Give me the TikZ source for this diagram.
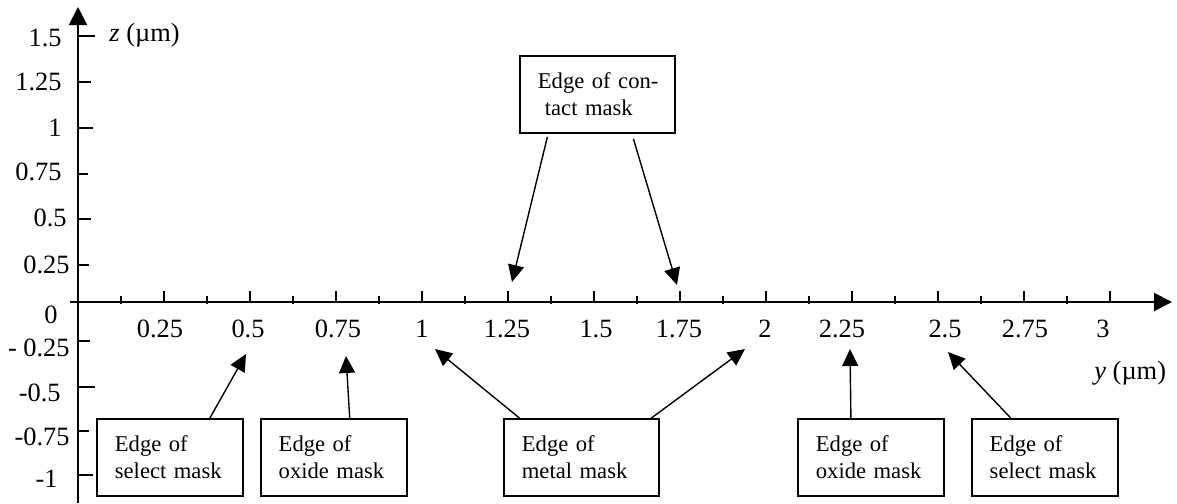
\documentclass[tikz,border=0pt]{standalone}
\usepackage{fontspec}
\setmainfont{Liberation Serif}
\usetikzlibrary{arrows.meta, positioning}

\begin{document}
\begin{tikzpicture}[
        x=0.5pt, y=-0.5pt,
        axis/.style={line width=1pt, -{Triangle[length=9pt, width=9pt]}},
        axtick/.style={line width=1pt},
        ticklabel/.style={font=\fontsize{13.2}{15}\selectfont, inner sep=0pt},
        maskbox/.style={draw, rectangle, line width=0.9pt, minimum height=38.5pt, text width=55pt, inner xsep=9pt, align=left, font=\fontsize{11.3}{13.5}\selectfont},
        pointer/.style={line width=0.7pt, -{Triangle[length=8.5pt, width=8pt]}}
    ]
        \useasboundingbox (0,0) rectangle (1177,503);

        % Axes
        \draw[axis] (78,503) -- (78,7);
        \draw[axis] (70,302) -- (1172,302);

        % Ticks
        \foreach \ty/\tx in {36/95, 82/91, 128/93, 174/88, 219/91, 265/89, 341/90, 387/95, 431/89, 475/93}
            \draw[axtick] (78,\ty) -- (\tx,\ty);
        \foreach \k in {0,...,12}
            \draw[axtick] (78+86*\k,291) -- (78+86*\k,302);
        \foreach \k in {0,...,11}
            \draw[axtick] (121+86*\k,296) -- (121+86*\k,304);

        % Tick labels
        \foreach \lx/\ly/\lab in {62/38/1.5, 62/82/1.25, 62/128/1, 62/172/0.75, 67/218/0.5, 70/265/0.25, 58/315/0, 70/348/- 0.25, 61/393/-0.5, 70/437/-0.75, 58/479/-1}
            \node[ticklabel, anchor=east] at (\lx,\ly) {\lab};
        \foreach \lx/\lab in {160/0.25, 248/0.5, 338/0.75, 422/1, 507/1.25, 596/1.5, 679/1.75, 765/2, 842/2.25, 945/2.5, 1025/2.75, 1103/3}
            \node[ticklabel] (y\lab) at (\lx,329) {\lab};

        \node[ticklabel, anchor=west] (zname) at (109,35) {\textit{z} (µm)};
        \node[ticklabel, anchor=west] (yname) at (1094,373) {\textit{y} (µm)};

        % Mask edges
        \node[maskbox, anchor=north west] (selectL) at (96,418) {Edge of\\select mask};
        \node[maskbox, right=8pt of selectL] (oxideL) {Edge of\\oxide mask};
        \node[maskbox, text width=59.5pt, anchor=north west] (metal) at (503,418) {Edge of\\metal mask};
        \node[maskbox, anchor=north west] (oxideR) at (797,418) {Edge of\\oxide mask};
        \node[maskbox, right=13pt of oxideR] (selectR) {Edge of\\select mask};
        \node[maskbox, text width=59.5pt, anchor=north west] (contact) at (519,55) {\mbox{Edge of con-}\\\mbox{\hspace*{3.5pt}tact mask}};

        % Arrow tips
        \coordinate (selLtip) at (246,354);
        \coordinate (oxLtip) at (346,356);
        \coordinate (metLtip) at (435,349);
        \coordinate (metRtip) at (745,349);
        \coordinate (oxRtip) at (850,349);
        \coordinate (selRtip) at (948,352);
        \coordinate (conLtip) at (512,282);
        \coordinate (conRtip) at (677,285);

        % Arrows
        \draw[pointer] ([xshift=20pt]selectL.north) -- (selLtip);
        \draw[pointer] ([xshift=8pt]oxideL.north) -- (oxLtip);
        \draw[pointer] ([xshift=-31pt]metal.north) -- (metLtip);
        \draw[pointer] ([xshift=35pt]metal.north) -- (metRtip);
        \draw[pointer] ([xshift=-10pt]oxideR.north) -- (oxRtip);
        \draw[pointer] ([xshift=-17pt]selectR.north) -- (selRtip);
        \draw[pointer] ([xshift=-25pt, yshift=-1.5pt]contact.south) -- (conLtip);
        \draw[pointer] ([xshift=18pt, yshift=-2.5pt]contact.south) -- (conRtip);
    \end{tikzpicture}
\end{document}
